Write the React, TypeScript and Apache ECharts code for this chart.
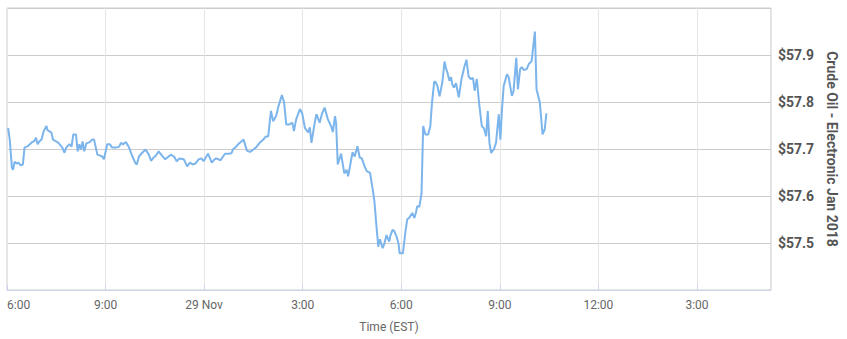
import React, { useEffect, useRef } from "react";
import * as echarts from "echarts";

// Time of each quote (EST); hours >= 18 belong to 28 Nov 2017, the rest to 29 Nov 2017
const times: string[] = [
  "18:02","18:05","18:09","18:11","18:14","18:18","18:21","18:25","18:29","18:32",
  "18:38","18:45","18:50","18:53","18:56","18:59","19:03","19:07","19:12","19:14",
  "19:21","19:24","19:27","19:33","19:38","19:41","19:45","19:48","19:54","19:58",
  "20:01","20:06","20:09","20:12","20:15","20:18","20:21","20:25","20:30","20:36",
  "20:39","20:45","20:50","20:54","20:57","21:03","21:08","21:12","21:19","21:25",
  "21:28","21:32","21:37","21:43","21:49","21:55","21:57","22:01","22:07","22:13",
  "22:19","22:23","22:28","22:32","22:37","22:43","22:49","22:59","23:05","23:10",
  "23:15","23:23","23:29","23:34","23:39","23:44","23:50","23:55","23:59","00:07",
  "00:10","00:14","00:19","00:22","00:30","00:38","00:44","00:50","00:53","00:57",
  "01:02","01:08","01:12","01:18","01:21","01:24","01:30","01:36","01:42","01:48",
  "01:52","01:57","02:02","02:06","02:12","02:15","02:22","02:26","02:30","02:35",
  "02:41","02:44","02:48","02:55","02:59","03:04","03:10","03:13","03:16","03:22",
  "03:25","03:31","03:35","03:40","03:46","03:52","03:55","03:59","04:01","04:04",
  "04:10","04:16","04:20","04:23","04:31","04:35","04:40","04:44","04:48","04:53",
  "04:57","05:03","05:08","05:11","05:14","05:17","05:18","05:21","05:26","05:29",
  "05:33","05:38","05:40","05:44","05:47","05:51","05:55","05:57","06:03","06:08",
  "06:11","06:14","06:20","06:24","06:27","06:29","06:33","06:37","06:40","06:44",
  "06:49","06:53","06:56","07:00","07:02","07:06","07:10","07:15","07:19","07:22",
  "07:24","07:28","07:31","07:33","07:36","07:40","07:45","07:50","07:55","07:59",
  "08:03","08:07","08:11","08:14","08:18","08:22","08:27","08:31","08:35","08:38",
  "08:41","08:44","08:49","08:53","08:58","09:01","09:04","09:07","09:13","09:16",
  "09:22","09:25","09:30","09:33","09:37","09:40","09:44","09:49","09:53","09:58",
  "10:04","10:07","10:13","10:18","10:22","10:25",
];

const prices: number[] = [
  57.745,57.720,57.660,57.656,57.673,57.669,57.671,57.665,57.667,57.703,
  57.706,57.714,57.717,57.724,57.710,57.716,57.720,57.738,57.749,57.740,
  57.735,57.720,57.718,57.714,57.707,57.703,57.692,57.703,57.710,57.705,
  57.731,57.731,57.695,57.710,57.699,57.716,57.695,57.712,57.714,57.720,
  57.720,57.688,57.686,57.684,57.678,57.710,57.710,57.703,57.703,57.705,
  57.713,57.710,57.715,57.703,57.684,57.669,57.667,57.684,57.692,57.699,
  57.688,57.675,57.682,57.686,57.695,57.686,57.678,57.688,57.684,57.674,
  57.680,57.678,57.663,57.671,57.667,57.669,57.678,57.680,57.674,57.690,
  57.682,57.671,57.678,57.680,57.676,57.690,57.690,57.691,57.700,57.703,
  57.710,57.716,57.720,57.697,57.695,57.694,57.699,57.705,57.714,57.720,
  57.726,57.727,57.781,57.759,57.772,57.788,57.815,57.799,57.752,57.752,
  57.756,57.738,57.763,57.785,57.776,57.745,57.735,57.746,57.713,57.756,
  57.774,57.756,57.774,57.788,57.763,57.748,57.736,57.770,57.755,57.667,
  57.690,57.648,57.656,57.642,57.693,57.684,57.706,57.682,57.680,57.663,
  57.653,57.649,57.613,57.588,57.545,57.506,57.492,57.508,57.489,57.498,
  57.517,57.503,57.515,57.528,57.526,57.515,57.499,57.478,57.478,57.528,
  57.551,57.553,57.564,57.553,57.566,57.578,57.577,57.606,57.749,57.731,
  57.731,57.748,57.797,57.842,57.844,57.834,57.812,57.842,57.886,57.870,
  57.864,57.845,57.853,57.838,57.831,57.840,57.810,57.849,57.874,57.890,
  57.854,57.849,57.851,57.824,57.849,57.799,57.749,57.744,57.727,57.781,
  57.713,57.692,57.699,57.713,57.774,57.720,57.785,57.834,57.859,57.853,
  57.813,57.823,57.894,57.827,57.870,57.874,57.868,57.870,57.881,57.887,
  57.950,57.827,57.799,57.731,57.742,57.776,
];

const axisStart = "18:00"; // 28 Nov
const axisEnd = "17:15"; // 29 Nov
const yTicks: number[] = [57.4, 57.5, 57.6, 57.7, 57.8, 57.9, 58.0];
const seriesName = "Crude Oil - Electronic Jan 2018";
const xTitle = "Time (EST)";

function toTs(hhmm: string, forceDay?: number): number {
  const [h, m] = hhmm.split(":").map(Number);
  const day = forceDay ?? (h >= 18 ? 28 : 29);
  return Date.UTC(2017, 10, day, h, m);
}

export default function App() {
  const ref = useRef<HTMLDivElement>(null);
  useEffect(() => {
    if (!ref.current) return;
    const chart = echarts.init(ref.current, undefined, { renderer: "svg" });
    const data = times.map((t, i) => [toTs(t), prices[i]]);
    const font = "Roboto, 'Helvetica Neue', Arial, sans-serif";
    chart.setOption({
      animation: false,
      grid: {
        left: 7,
        right: 71,
        top: 8,
        bottom: 49,
        show: true,
        borderColor: "#cccccc",
        borderWidth: 1,
      },
      xAxis: {
        type: "value",
        min: toTs(axisStart, 28),
        max: toTs(axisEnd, 29),
        interval: 3 * 3600 * 1000,
        name: xTitle,
        nameLocation: "middle",
        nameGap: 31,
        nameTextStyle: { color: "#666666", fontSize: 12, fontFamily: font },
        axisLine: { show: true, lineStyle: { color: "#ccd6eb" } },
        axisTick: { show: true, inside: true, length: 5, lineStyle: { color: "#ccd6eb" } },
        splitLine: { show: true, lineStyle: { color: "#e6e6e6" } },
        axisLabel: {
          color: "#666666",
          fontSize: 12,
          fontFamily: font,
          margin: 9,
          showMaxLabel: false,
          alignMinLabel: "left",
          formatter: (v: number) => {
            const d = new Date(v);
            const h = d.getUTCHours();
            if (h === 0) return `${d.getUTCDate()} Nov`;
            const h12 = h % 12 === 0 ? 12 : h % 12;
            return `${h12}:00`;
          },
        },
      },
      yAxis: {
        type: "value",
        position: "right",
        min: yTicks[0],
        max: yTicks[yTicks.length - 1],
        interval: 0.1,
        name: seriesName,
        nameLocation: "middle",
        nameRotate: -90,
        nameGap: 53,
        nameTextStyle: { color: "#555555", fontSize: 14, fontWeight: "bold", fontFamily: font },
        axisLine: { show: false },
        axisTick: { show: false },
        splitLine: { show: true, lineStyle: { color: "#cccccc" } },
        axisLabel: {
          color: "#555555",
          fontSize: 14,
          fontWeight: "bold",
          fontFamily: font,
          margin: 7,
          showMinLabel: false,
          showMaxLabel: false,
          formatter: (v: number) => `$${v.toFixed(1)}`,
        },
      },
      series: [
        {
          type: "line",
          name: seriesName,
          data,
          showSymbol: false,
          symbol: "none",
          lineStyle: { color: "#7cb5ec", width: 2 },
          itemStyle: { color: "#7cb5ec" },
        },
      ],
    });
    return () => chart.dispose();
  }, []);
  return (
    <div
      ref={ref}
      style={{ position: "absolute", left: 0, top: 0, width: 847, height: 339 }}
    />
  );
}
